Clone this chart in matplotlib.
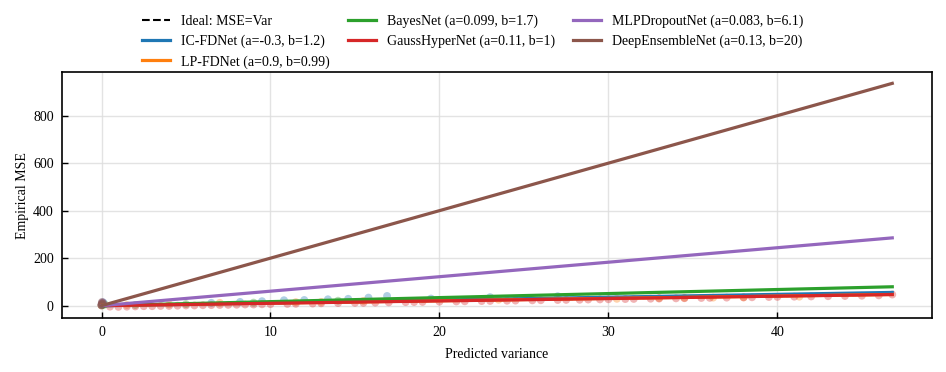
import numpy as np
import matplotlib
matplotlib.use('Agg')
import matplotlib.pyplot as plt

plt.rcParams['font.family'] = ['Liberation Serif', 'DejaVu Serif']
plt.rcParams['font.size'] = 10

#%% data
models = ['IC-FDNet', 'LP-FDNet', 'BayesNet', 'GaussHyperNet', 'MLPDropoutNet', 'DeepEnsembleNet']
colors = ['#1f77b4', '#ff7f0e', '#2ca02c', '#d62728', '#9467bd', '#8c564b']
fit_a = [-0.3, 0.9, 0.099, 0.11, 0.083, 0.13]
fit_b = [1.2, 0.99, 1.7, 1.0, 6.1, 20.0]
var_range = [0.0, 46.8]

# scattered (predicted variance, empirical MSE) per model
pts_x = {
    'IC-FDNet': [0.0, 0.05, 0.1, 6.5, 8.2, 9.5, 10.8, 12.0, 13.4, 14.6, 15.8, 16.9, 19.5, 23.0, 27.0],
    'LP-FDNet': [0.0, 0.1, 1.5, 4.0, 7.0, 11.5, 13.0, 15.5, 23.5, 30.5, 33.0, 34.5, 36.2, 38.0, 41.3],
    'BayesNet': [0.0, 0.05, 0.1, 0.2, 2.0, 5.0, 9.0, 14.0],
    'GaussHyperNet': [0.0, 0.5, 1.0, 1.5, 2.0, 2.5, 3.0, 3.5, 4.0, 4.5, 5.0, 5.5, 6.0, 6.5, 7.0, 7.5,
                      8.0, 8.5, 9.0, 9.5, 10.0, 11.0, 11.5, 12.5, 13.0, 14.0, 15.0, 15.5, 16.2, 17.0,
                      18.0, 18.5, 19.0, 20.0, 21.0, 21.5, 22.5, 23.0, 24.0, 24.5, 25.5, 26.0, 27.0,
                      27.5, 28.3, 28.8, 29.5, 30.0, 31.0, 31.5, 32.5, 33.0, 34.0, 34.5, 35.5, 36.0,
                      37.0, 38.0, 38.5, 39.5, 40.0, 41.0, 42.0, 43.0, 44.0, 45.0, 46.0, 46.8],
    'MLPDropoutNet': [0.0, 0.02, 0.05, 0.08, 0.1],
    'DeepEnsembleNet': [0.0, 0.01, 0.02, 0.03, 0.05, 0.08],
}
pts_y = {
    'IC-FDNet': [3.0, 8.0, 14.0, 12.0, 16.0, 19.0, 23.0, 24.0, 27.0, 29.0, 34.0, 41.0, 30.0, 36.0, 40.0],
    'LP-FDNet': [2.0, 6.0, 3.0, 6.0, 12.0, 15.0, 16.0, 20.0, 25.0, 29.0, 32.0, 33.0, 34.0, 35.0, 38.0],
    'BayesNet': [1.0, 4.0, 2.0, 6.0, 3.0, 7.0, 13.0, 21.0],
    'GaussHyperNet': [1.0, -4.0, -5.0, -4.0, -3.0, -2.0, -2.0, -1.0, -1.0, 0.0, 1.0, 1.0, 2.0, 2.5,
                      3.0, 3.5, 4.0, 5.0, 5.0, 6.0, 6.5, 7.5, 8.0, 9.0, 10.0, 11.0, 12.0, 12.0,
                      13.0, 14.0, 15.0, 15.5, 16.0, 17.0, 18.0, 18.5, 19.5, 20.0, 21.0, 21.5,
                      22.5, 23.0, 24.0, 24.5, 25.0, 26.0, 26.5, 27.0, 28.0, 28.5, 29.5, 30.0,
                      31.0, 31.5, 32.5, 33.0, 34.0, 35.0, 35.5, 36.5, 37.0, 38.0, 39.0, 40.0,
                      41.0, 42.0, 43.5, 47.0],
    'MLPDropoutNet': [4.0, 10.0, 15.0, 8.0, 12.0],
    'DeepEnsembleNet': [3.0, 8.0, 12.0, 16.0, 6.0, 10.0],
}

#%% plot
fig = plt.figure(figsize=(9.46, 3.72), dpi=100)
ax = fig.add_axes([0.0655, 0.145, 0.9195, 0.661])

xs = np.asarray(var_range)
ax.plot(xs, xs, '--', color='k', linewidth=1.5, label='Ideal: MSE=Var', zorder=3)
for n, m in enumerate(models):
    ax.scatter(pts_x[m], pts_y[m], s=32, color=colors[n], alpha=0.35, edgecolors='none', zorder=2)
for n, m in enumerate(models):
    ax.plot(xs, fit_a[n] + fit_b[n] * xs, color=colors[n], linewidth=2.3,
            label='%s (a=%s, b=%s)' % (m, fit_a[n], fit_b[n] if fit_b[n] % 1 else int(fit_b[n])), zorder=4)

ax.set_xlabel('Predicted variance', labelpad=6)
ax.set_ylabel('Empirical MSE', labelpad=3)
ax.set_xticks([0, 10, 20, 30, 40])
ax.set_yticks([0, 200, 400, 600, 800])
ax.tick_params(direction='in', length=4, width=1, pad=6)
ax.grid(True, color='#dddddd', linewidth=1, alpha=0.8)
ax.set_axisbelow(True)
for s in ax.spines.values():
    s.set_linewidth(1.2)

fig.legend(loc='upper center', bbox_to_anchor=(0.5, 0.995), ncol=3, frameon=False,
           fontsize=10, handlelength=2.0, columnspacing=1.3, labelspacing=0.5)

fig.savefig('out.png', dpi=100)
